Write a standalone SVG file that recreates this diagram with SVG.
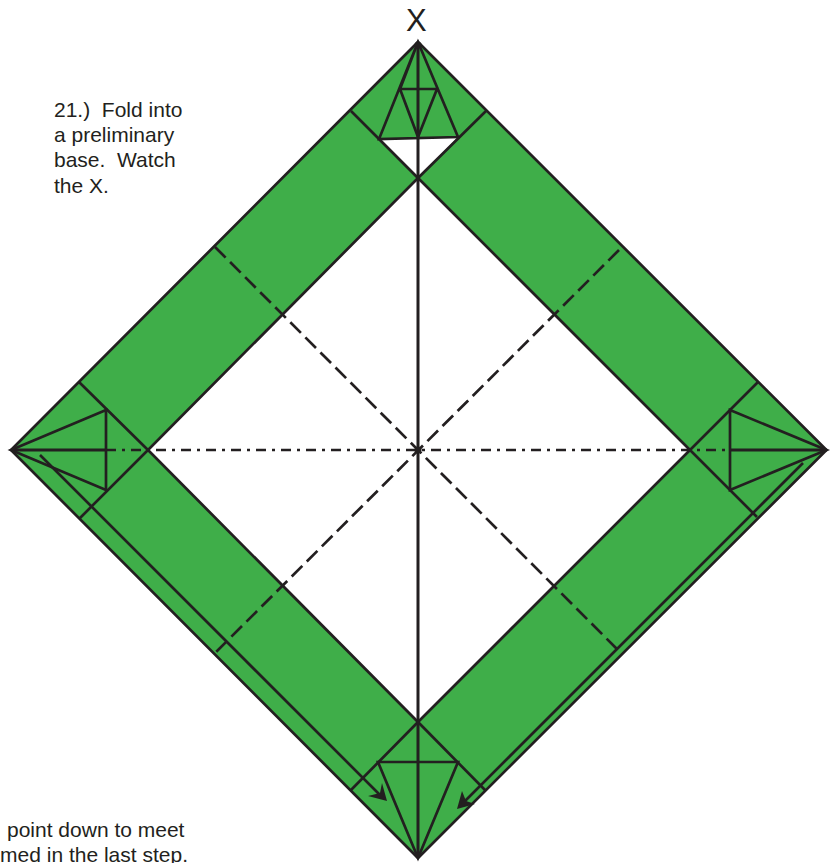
<svg xmlns="http://www.w3.org/2000/svg" width="836" height="863" viewBox="0 0 836 863">
<style>
.l{fill:none;stroke:#231f20;stroke-width:2.7;stroke-linejoin:miter;stroke-linecap:butt}
.t{stroke-width:3}
.d{stroke-dasharray:15 6.3}
.dd{stroke-dasharray:10 6 3 6}
.h{fill:#231f20;stroke:none}
text{font-family:"Liberation Sans",Arial,sans-serif;fill:#231f20;font-size:21px}
</style>
<g id="paper">
<path fill="#3fae49" fill-rule="evenodd" d="M418 42L826.5 450L418 858L11 450ZM418 178L148 450L418 722L690 450Z"/>
<polygon fill="#fff" points="379,139 458,137 418,178"/>
</g>
<g id="connectors">
<path class="l" d="M418 42L826.5 450L418 858L11 450Z"/>
<path class="l" d="M351 111L418 178L486 111M79 382L148 450L80 518M758 382L690 450L757 517M351 790L418 722L485 790M418 178L148 450L418 722L690 450Z"/>
<path class="l t" d="M418 42V858"/>
<path class="l t" d="M11 450H106M730 450H826.5"/>
<path class="l dd" d="M106 450H730"/>
<path class="l d" d="M215 247L619 651M619 250L215 653"/>
<path class="l" d="M418 42L379 139L458 137ZM418 42L400 89H437L418 137M437 89L418 137M400 89L418 137"/>
<path class="l" d="M11 450L106 410V490ZM826.5 450L730 410V490Z"/>
<path class="l" d="M418 858L378 762H458Z"/>
<path class="l" d="M40 455L381 796M803 463L463 803"/>
<path class="h" d="M387 801L368 796L380 793L382 783Z"/>
<path class="h" d="M457 809L462 791L466 801L475 804Z"/>
<circle class="h" cx="418" cy="450" r="3.5"/>
<circle class="h" cx="418" cy="45" r="3.5"/>
<circle class="h" cx="418" cy="855" r="3"/>
</g>
<g id="labels">
<text x="406" y="30.5" style="font-size:31px">X</text>
<text x="54" y="116.5" xml:space="preserve">21.)  Fold into</text>
<text x="54" y="141.5">a preliminary</text>
<text x="54" y="167" xml:space="preserve">base.  Watch</text>
<text x="54" y="192.5">the X.</text>
<text x="7" y="837">point down to meet</text>
<text x="188" y="861.5" text-anchor="end">med in the last step.</text>
</g>
</svg>
